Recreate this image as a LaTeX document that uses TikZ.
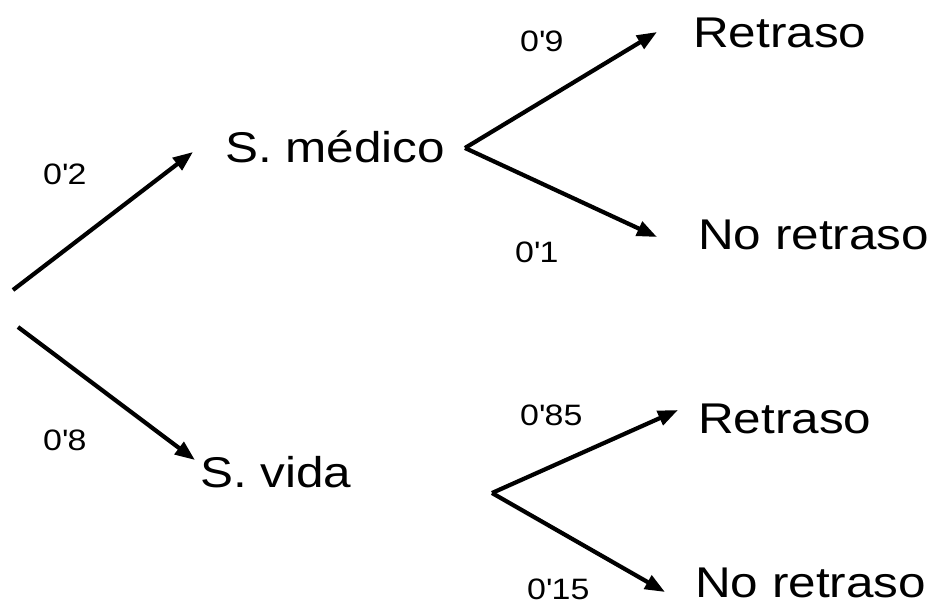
\documentclass[tikz,border=0pt]{standalone}
\usepackage{fontspec}
\setmainfont{Liberation Sans}[FakeStretch=1.15]
\usetikzlibrary{arrows.meta}
\newcommand{\prob}[1]{0\textquotesingle#1}

\begin{document}
\begin{tikzpicture}[x=1pt,y=-1pt,
    rama/.style={line width=4.2pt,-{Triangle[length=20pt,width=15pt]}},
    suceso/.style={inner sep=0pt,anchor=base west,font=\fontsize{43}{50}\selectfont},
    etiq/.style={inner sep=0pt,anchor=base west,font=\fontsize{29.5}{34}\selectfont}]
    \useasboundingbox (0,0) rectangle (933,609);

    % Start points of the branches
    \coordinate (O1) at (13,290);
    \coordinate (O2) at (18,327);
    \coordinate (M) at (465,148);
    \coordinate (V) at (492,493);

    % Events
    \node[suceso] (med) at (225,163) {S. médico};
    \node[suceso] (vid) at (200,487) {S. vida};
    \node[suceso] (ret1) at (693,48) {Retraso};
    \node[suceso] (nor1) at (698,250) {No retraso};
    \node[suceso] (ret2) at (698,433) {Retraso};
    \node[suceso] (nor2) at (695,597) {No retraso};

    % First level
    \draw[rama] (O1) -- ([shift={(-32,-11)}]med.base west);
    \draw[rama] (O2) -- ([shift={(-5,-27)}]vid.base west);
    \node[etiq] (p1) at (43,185) {\prob{2}};
    \node[etiq] (p2) at (43,450) {\prob{8}};

    % Second level
    \draw[rama] (M) -- ([shift={(-36,-16)}]ret1.base west);
    \draw[rama] (M) -- ([shift={(-41,-13)}]nor1.base west);
    \draw[rama] (V) -- ([shift={(-20,-23)}]ret2.base west);
    \draw[rama] (V) -- ([shift={(-30,-5)}]nor2.base west);
    \node[etiq] (p3) at (520,52) {\prob{9}};
    \node[etiq] (p4) at (515,263) {\prob{1}};
    \node[etiq] (p5) at (520,425) {\prob{85}};
    \node[etiq] (p6) at (527,599) {\prob{15}};
\end{tikzpicture}
\end{document}
